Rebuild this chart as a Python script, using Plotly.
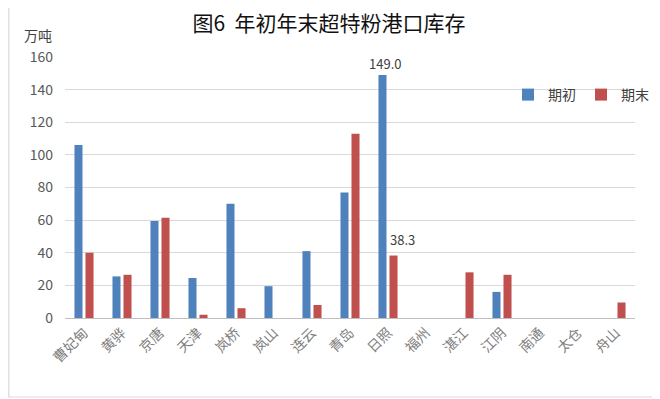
import plotly.graph_objects as go

categories = ["曹妃甸", "黄骅", "京唐", "天津", "岚桥", "岚山", "连云", "青岛", "日照",
              "福州", "湛江", "江阴", "南通", "太仓", "舟山"]
start_vals = [106, 25.5, 59.5, 24.5, 70, 19.5, 41, 77, 149.0, 0, 0, 16, 0, 0, 0]
end_vals = [40, 26.5, 61.5, 2, 6, 0, 8, 113, 38.3, 0, 28, 26.5, 0, 0, 9.5]
y_ticks = [0, 20, 40, 60, 80, 100, 120, 140, 160]

CJK = "Noto Sans CJK SC"

# page body has an 8px offset; figure coordinates compensate for it
L, R, T, B = 57, 33, 49, 89
PW, PH = 660 - L - R, 399 - T - B

fig = go.Figure()
fig.add_trace(go.Bar(name="期初", x=categories, y=start_vals,
                     marker=dict(color="#4F81BD", line=dict(width=0))))
fig.add_trace(go.Bar(name="期末", x=categories, y=end_vals,
                     marker=dict(color="#C0504D", line=dict(width=0))))

# data labels for 日照
fig.add_annotation(x="日照", y=start_vals[8], text=f"{start_vals[8]:.1f}", showarrow=False,
                   xshift=-3, yanchor="bottom", yshift=0,
                   font=dict(family=CJK, size=13, color="#404040"))
fig.add_annotation(x="日照", y=end_vals[8], text=f"{end_vals[8]:.1f}", showarrow=False,
                   xshift=14, yanchor="bottom", yshift=5,
                   font=dict(family=CJK, size=13, color="#404040"))

fig.add_annotation(xref="paper", yref="paper", x=(30 - L) / PW, y=(T + PH - 27) / PH,
                   xanchor="center", yanchor="middle",
                   text="万吨", showarrow=False, font=dict(family=CJK, size=14, color="#404040"))

# outer frame
fig.add_shape(type="rect", xref="paper", yref="paper",
              x0=(0.8 - L) / PW, x1=(650 - L) / PW, y0=(T + PH - 389) / PH, y1=(T + PH + 20) / PH,
              line=dict(color="#D9D9D9", width=1.2), layer="below")

fig.update_layout(
    width=660, height=399,
    margin=dict(l=L, r=R, t=T, b=B, autoexpand=False),
    paper_bgcolor="white", plot_bgcolor="white",
    title=dict(text="图6  年初年末超特粉港口库存", x=(329 - 8) / 660, xanchor="center",
               y=1 - 16 / 399, yanchor="middle",
               font=dict(family=CJK, size=21, color="#111111")),
    barmode="group", bargap=0.42, bargroupgap=0.27,
    showlegend=True,
    legend=dict(orientation="h", x=(500 - L) / PW, y=(T + PH - 87) / PH, xanchor="left", yanchor="middle",
                font=dict(family=CJK, size=14, color="#404040"), bgcolor="rgba(0,0,0,0)",
                itemwidth=30, tracegroupgap=0),
    xaxis=dict(tickangle=-45, tickfont=dict(family=CJK, size=14, color="#7F7F7F"),
               showline=True, linecolor="#BFBFBF", linewidth=1, ticks="", showgrid=False,
               automargin=False),
    yaxis=dict(range=[0, 160], tickvals=y_ticks, ticks="", showline=False,
               gridcolor="#D9D9D9", gridwidth=1, zeroline=False, automargin=False,
               tickfont=dict(family=CJK, size=14, color="#595959"), ticklabelstandoff=11),
)

fig.write_html("out.html")
